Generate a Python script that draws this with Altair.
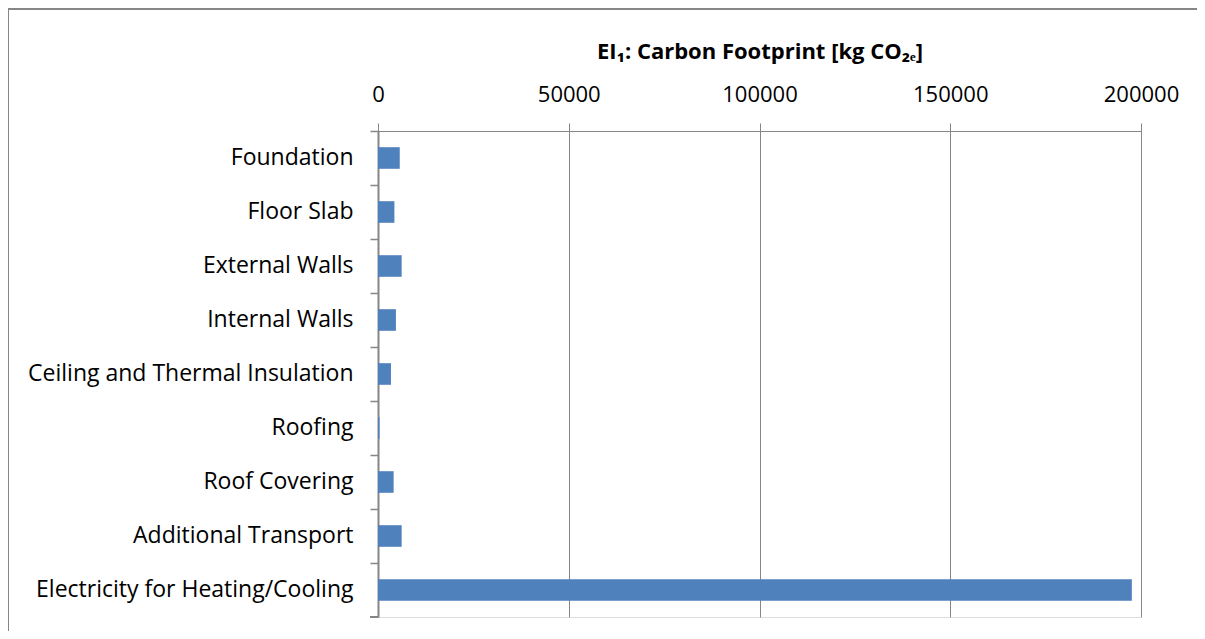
import altair as alt
import pandas as pd

categories = [
    "Foundation",
    "Floor Slab",
    "External Walls",
    "Internal Walls",
    "Ceiling and Thermal Insulation",
    "Roofing",
    "Roof Covering",
    "Additional Transport",
    "Electricity for Heating/Cooling",
]
values = [5700, 4300, 6200, 4700, 3400, 400, 4100, 6200, 197600]
x_ticks = [0, 50000, 100000, 150000, 200000]

df = pd.DataFrame({"category": categories, "value": values})

FONT = "Open Sans"
GRAY = "#868686"
W, H = 763, 486

bars = alt.Chart(df).mark_bar(
    color="#4F81BD", height=alt.RelativeBandSize(0.4)
).encode(
    x=alt.X(
        "value:Q",
        scale=alt.Scale(domain=[0, 200000], nice=False),
        axis=alt.Axis(
            orient="top",
            values=x_ticks,
            format="d",
            title="EI\u2081: Carbon Footprint [kg CO\u2082\u2091]",
            titleFont=FONT,
            titleFontSize=22,
            titleFontWeight="bold",
            titleColor="#000000",
            titlePadding=20,
            labelFont=FONT,
            labelFontSize=22,
            labelColor="#000000",
            labelPadding=17,
            tickSize=8,
            tickColor=GRAY,
            domainColor=GRAY,
            gridColor=GRAY,
            grid=True,
            labelFlush=False,
        ),
    ),
    y=alt.Y(
        "category:N",
        sort=categories,
        scale=alt.Scale(paddingInner=0, paddingOuter=0),
        axis=alt.Axis(
            title=None,
            bandPosition=0,
            labelFont=FONT,
            labelFontSize=23,
            labelColor="#000000",
            labelPadding=17,
            labelLimit=400,
            tickSize=8,
            tickColor=GRAY,
            tickWidth=1.5,
            domainColor=GRAY,
            domainWidth=2,
            grid=False,
        ),
    ),
)

last_tick = alt.Chart(df).mark_rule(color=GRAY, strokeWidth=1.5).encode(
    x=alt.value(-8), x2=alt.value(0), y=alt.value(H)
)

frame = alt.Chart(df).mark_rect(
    fill=None, stroke=GRAY, strokeWidth=2
).encode(
    x=alt.value(-370), x2=alt.value(W + 200), y=alt.value(-122), y2=alt.value(H + 200)
)

chart = alt.layer(frame, bars, last_tick).properties(
    width=W,
    height=H,
    autosize=alt.AutoSizeParams(type="none"),
    padding={"left": 370, "top": 123, "right": 56, "bottom": 14},
).configure_view(stroke=None).configure(background="white")

chart.save("out.html", embed_options={"renderer": "svg", "actions": False})
